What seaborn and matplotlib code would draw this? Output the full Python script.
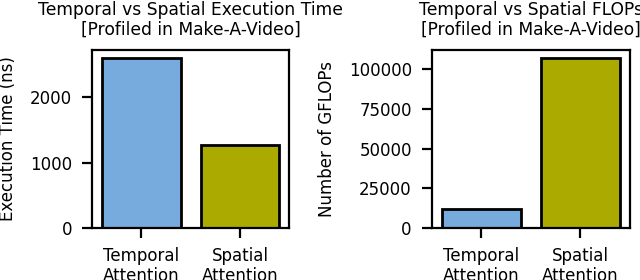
import pandas as pd
import seaborn as sns
import matplotlib.pyplot as plt

# Values
categories = ['Temporal\nAttention', 'Spatial\nAttention']
exec_time_ns = [2600, 1270]
gflops = [11700, 107000]
colors = ['#77AADD', '#AAAA00']

sns.set_theme(style='ticks')
plt.rcParams['font.family'] = ['DejaVu Sans']
plt.rcParams['font.size'] = 12
plt.rcParams['text.color'] = 'black'
plt.rcParams['axes.labelcolor'] = 'black'

time_df = pd.DataFrame({'kind': categories, 'value': exec_time_ns})
flops_df = pd.DataFrame({'kind': categories, 'value': gflops})

fig = plt.figure(figsize=(6.4, 2.8), dpi=100)
ax1 = fig.add_axes([0.144, 0.186, 0.308, 0.636])
ax2 = fig.add_axes([0.675, 0.186, 0.309, 0.636])

for ax, df in [(ax1, time_df), (ax2, flops_df)]:
    sns.barplot(data=df, x='kind', y='value', hue='kind', palette=colors,
                saturation=1, edgecolor='black', linewidth=2, ax=ax,
                legend=False, width=0.8)
    ax.set_xlabel('')
    for s in ax.spines.values():
        s.set_linewidth(1.6)
        s.set_color('black')
    ax.tick_params(axis='both', length=7.5, width=1.6, labelsize=12,
                   colors='black')
    ax.tick_params(axis='y', pad=7)
    ax.tick_params(axis='x', pad=6)

ax1.set_ylabel('Execution Time (ns)', fontsize=12, labelpad=9)
ax1.set_title('Temporal vs Spatial Execution Time\n[Profiled in Make-A-Video]',
              fontsize=12.3, pad=11, linespacing=1.1)
ax1.set_yticks([0, 1000, 2000])

ax2.set_ylabel('Number of GFLOPs', fontsize=12, labelpad=9)
ax2.set_title('Temporal vs Spatial FLOPs\n[Profiled in Make-A-Video]',
              fontsize=12.3, pad=11, linespacing=1.1)
ax2.set_yticks([0, 25000, 50000, 75000, 100000])

plt.savefig('out.png', dpi=100)
